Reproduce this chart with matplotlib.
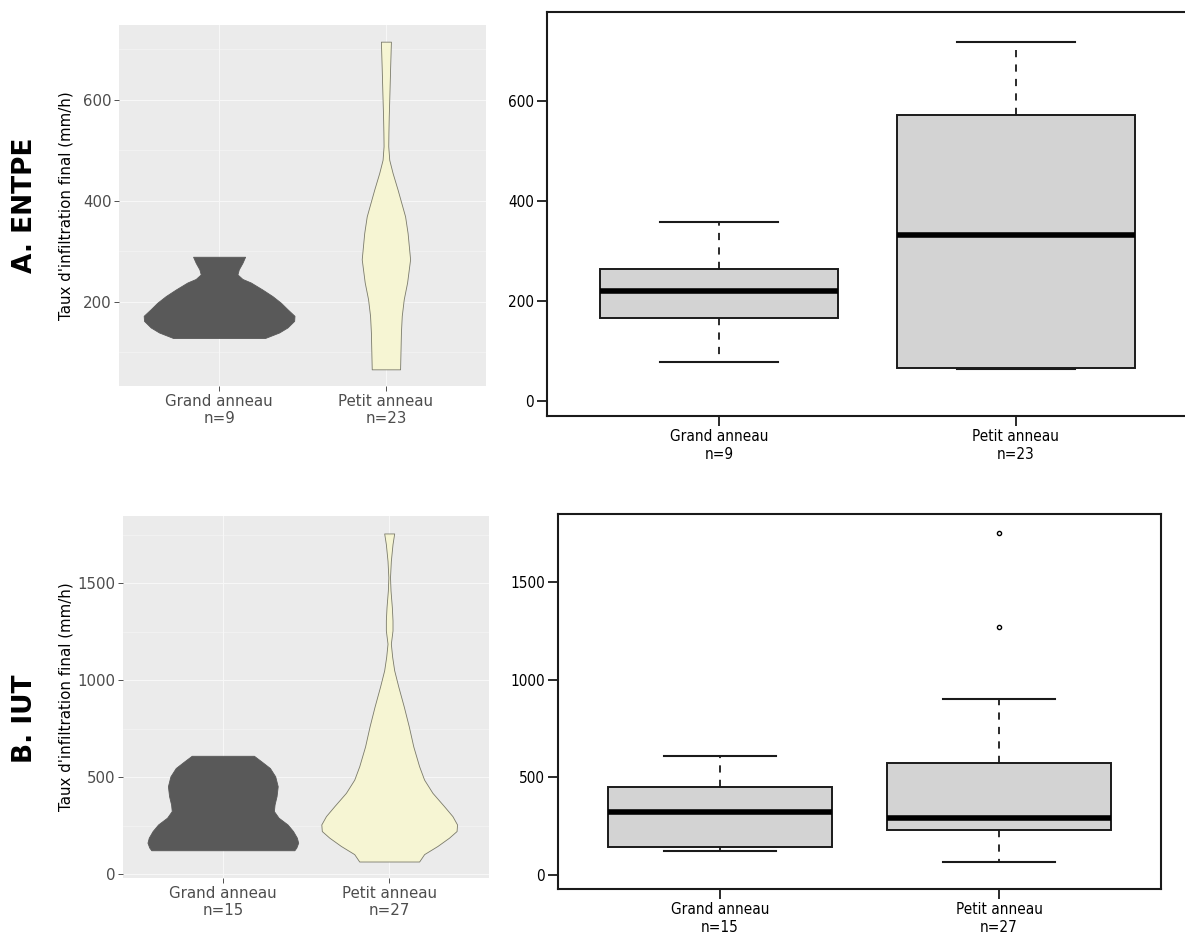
import matplotlib
matplotlib.use("Agg")
import matplotlib.pyplot as plt

groups = ["Grand anneau", "Petit anneau"]
n_entpe = [9, 23]
n_iut = [15, 27]
ylab = "Taux d'infiltration final (mm/h)"

# violin outlines: value (mm/h) and half-width (x units)
entpe_grand_y = [289, 277, 264, 254, 245, 238, 224, 211, 198, 185, 172, 162, 149, 139, 128]
entpe_grand_w = [0.156, 0.14, 0.118, 0.11, 0.14, 0.19, 0.26, 0.32, 0.37, 0.41, 0.452, 0.45, 0.41, 0.36, 0.275]
entpe_petit_y = [715, 660, 600, 567, 534, 508, 481, 455, 422, 369, 336, 284, 238, 205, 172, 139, 66]
entpe_petit_w = [0.03, 0.025, 0.02, 0.017, 0.015, 0.014, 0.02, 0.04, 0.07, 0.115, 0.13, 0.145, 0.127, 0.107, 0.095, 0.09, 0.085]

iut_grand_y = [610, 581, 547, 504, 453, 402, 359, 325, 291, 256, 222, 188, 162, 137, 123]
iut_grand_w = [0.187, 0.232, 0.283, 0.315, 0.33, 0.323, 0.311, 0.307, 0.335, 0.389, 0.422, 0.445, 0.453, 0.442, 0.43]
iut_petit_y = [1756, 1701, 1615, 1530, 1462, 1376, 1308, 1256, 1188, 1120, 1051, 966, 863, 761, 658,
               556, 487, 419, 350, 299, 256, 222, 188, 145, 103, 65]
iut_petit_w = [0.03, 0.02, 0.01, 0.005, 0.008, 0.016, 0.02, 0.02, 0.01, 0.018, 0.03, 0.055, 0.088, 0.118, 0.145,
               0.18, 0.21, 0.26, 0.33, 0.38, 0.408, 0.405, 0.36, 0.29, 0.21, 0.18]

# box statistics (Grand, Petit)
entpe_med = [220, 332]
entpe_q1 = [166, 66]
entpe_q3 = [264, 572]
entpe_lo = [78, 65]
entpe_hi = [358, 719]
entpe_out = [[], []]

iut_med = [321, 294]
iut_q1 = [144, 231]
iut_q3 = [450, 573]
iut_lo = [123, 65]
iut_hi = [612, 903]
iut_out = [[], [1274, 1756]]

W, H = 1185, 934
fig = plt.figure(figsize=(W / 100, H / 100), dpi=100)


def px_axes(left, top, right, bottom):
    return fig.add_axes([left / W, 1 - bottom / H, (right - left) / W, (bottom - top) / H])


def labels(ns):
    return [f"{g}\nn={n}" for g, n in zip(groups, ns)]


def violin_panel(ax, shapes, ylim, yticks, minor, ns, lab_x):
    ax.set_facecolor("#EBEBEB")
    ax.set_xlim(0.4, 2.6)
    ax.set_ylim(*ylim)
    ax.set_yticks(yticks)
    ax.set_yticks(minor, minor=True)
    ax.set_xticks([1, 2])
    ax.set_xticklabels(labels(ns))
    ax.grid(which="major", color="#F7F7F7", lw=0.8)
    ax.grid(which="minor", axis="y", color="#F7F7F7", lw=0.4)
    ax.set_axisbelow(True)
    for s in ax.spines.values():
        s.set_visible(False)
    ax.tick_params(which="major", length=3.5, width=0.6, color="#333333", labelcolor="#4D4D4D",
                   labelsize=10.8, pad=2)
    ax.tick_params(which="minor", length=0)
    colors = [("#595959", "#595959"), ("#F6F5D3", "#7A7A6A")]
    for i, (ys, ws) in enumerate(shapes):
        x0 = i + 1
        ax.fill_betweenx(ys, [x0 - w for w in ws], [x0 + w for w in ws],
                         facecolor=colors[i][0], edgecolor=colors[i][1], lw=0.6, zorder=3)
    ax.set_ylabel(ylab, fontsize=10.8, color="black")
    ax.yaxis.set_label_coords(lab_x, 0.5)


def box_panel(ax, med, q1, q3, lo, hi, out, ylim, yticks, ns):
    stats = []
    for i in range(2):
        stats.append(dict(med=med[i], q1=q1[i], q3=q3[i], whislo=lo[i], whishi=hi[i], fliers=out[i]))
    ax.bxp(stats, positions=[1, 2], widths=0.8, capwidths=0.4, patch_artist=True,
           boxprops=dict(facecolor="#D3D3D3", edgecolor="#1A1A1A", lw=1.4),
           medianprops=dict(color="black", lw=4, solid_capstyle="butt"),
           whiskerprops=dict(color="#1A1A1A", lw=1.3, linestyle=(0, (4, 4))),
           capprops=dict(color="#1A1A1A", lw=1.5),
           flierprops=dict(marker="o", markersize=3, markerfacecolor="none",
                           markeredgecolor="black", markeredgewidth=1.0))
    ax.set_xlim(0.42, 2.58)
    ax.set_ylim(*ylim)
    ax.set_yticks(yticks)
    ax.set_xticks([1, 2])
    ax.set_xticklabels(labels(ns))
    for s in ax.spines.values():
        s.set_color("#1A1A1A")
        s.set_linewidth(1.5)
    ax.tick_params(length=7.5, width=1.3, color="#1A1A1A", labelsize=11, pad=2)
    for t in ax.get_xticklabels() + ax.get_yticklabels():
        t.set_fontstretch("condensed")


# A. ENTPE
ax1 = px_axes(119, 25, 486, 386)
violin_panel(ax1, [(entpe_grand_y, entpe_grand_w), (entpe_petit_y, entpe_petit_w)],
             (33, 748), [200, 400, 600], [100, 300, 500, 700], n_entpe, -0.123)

ax2 = px_axes(547, 12, 1188, 416)
box_panel(ax2, entpe_med, entpe_q1, entpe_q3, entpe_lo, entpe_hi, entpe_out,
          (-30, 779), [0, 200, 400, 600], n_entpe)

# B. IUT
ax3 = px_axes(123, 516, 489, 878)
violin_panel(ax3, [(iut_grand_y, iut_grand_w), (iut_petit_y, iut_petit_w)],
             (-20, 1846), [0, 500, 1000, 1500], [250, 750, 1250, 1750], n_iut, -0.134)

ax4 = px_axes(558, 514, 1161, 889)
box_panel(ax4, iut_med, iut_q1, iut_q3, iut_lo, iut_hi, iut_out,
          (-72, 1851), [0, 500, 1000, 1500], n_iut)

fig.text(25 / W, 1 - 205 / H, "A. ENTPE", rotation=90, ha="center", va="center",
         fontsize=19, fontweight="bold")
fig.text(25 / W, 1 - 719 / H, "B. IUT", rotation=90, ha="center", va="center",
         fontsize=19, fontweight="bold")

fig.savefig("out.png", dpi=100)
